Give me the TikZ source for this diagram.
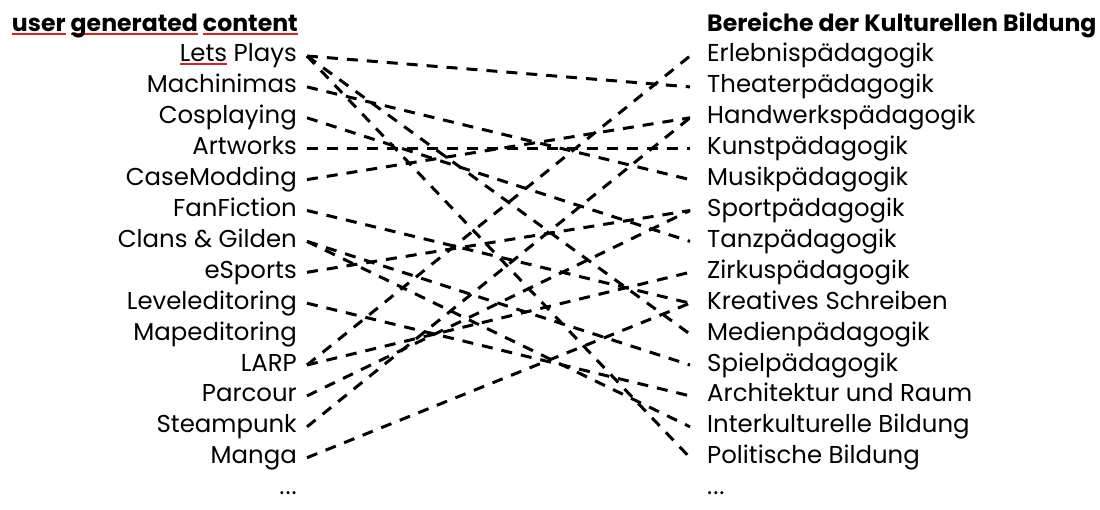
\documentclass[tikz,border=0pt]{standalone}
\usepackage{fontspec}
\setmainfont{Poppins}
\definecolor{spellred}{RGB}{220,30,30}
\newcommand\spellul[1]{\setbox0\hbox{#1}\rlap{\textcolor{spellred}{\rule[-3pt]{\wd0}{2pt}}}\box0\relax}
\tikzset{
  lft/.style={anchor=east, inner xsep=10pt, inner ysep=0pt, text height=17pt, text depth=5pt, font=\fontsize{24.4}{27}\selectfont},
  rgt/.style={anchor=west, inner xsep=17pt, inner ysep=0pt, text height=17pt, text depth=5pt, font=\fontsize{24.4}{27}\selectfont},
  ttl/.style={inner sep=0pt, font=\fontsize{23.6}{26}\selectfont\bfseries},
  conn/.style={line width=3pt, dash pattern=on 11pt off 9pt}
}
\begin{document}
\begin{tikzpicture}[x=1pt,y=-1pt]
\useasboundingbox[fill=white] (0,0) rectangle (1100,510);
\node[ttl, anchor=base east] (tl) at (298,32) {\spellul{user} \spellul{generated} \spellul{content}};
\node[ttl, anchor=base west] (tr) at (707,32) {Bereiche der Kulturellen Bildung};
\foreach \t [count=\i] in {{\spellul{Lets} Plays},Machinimas,Cosplaying,Artworks,CaseModding,FanFiction,{Clans \& Gilden},eSports,Leveleditoring,Mapeditoring,LARP,Parcour,Steampunk,Manga}
  \node[lft] (L\i) at (307,{56+(\i-1)*30.9}) {\t};
\node[lft] (L15) at (307,{56+14*30.9}) {.\kern1pt.\kern1pt.};
\foreach \t [count=\i] in {Erlebnispädagogik,Theaterpädagogik,Handwerkspädagogik,Kunstpädagogik,Musikpädagogik,Sportpädagogik,Tanzpädagogik,Zirkuspädagogik,Kreatives Schreiben,Medienpädagogik,Spielpädagogik,Architektur und Raum,Interkulturelle Bildung,Politische Bildung}
  \node[rgt] (R\i) at (690,{56+(\i-1)*30.9}) {\t};
\node[rgt] (R15) at (690,{56+14*30.9}) {.\kern1pt.\kern1pt.};
\foreach \a/\b in {1/2,1/10,1/14,2/5,3/7,4/4,5/3,6/9,7/11,7/13,8/6,9/12,11/1,11/8,12/6,13/3,14/9}
  \draw[conn] (L\a.east) -- (R\b.west);
\end{tikzpicture}
\end{document}
